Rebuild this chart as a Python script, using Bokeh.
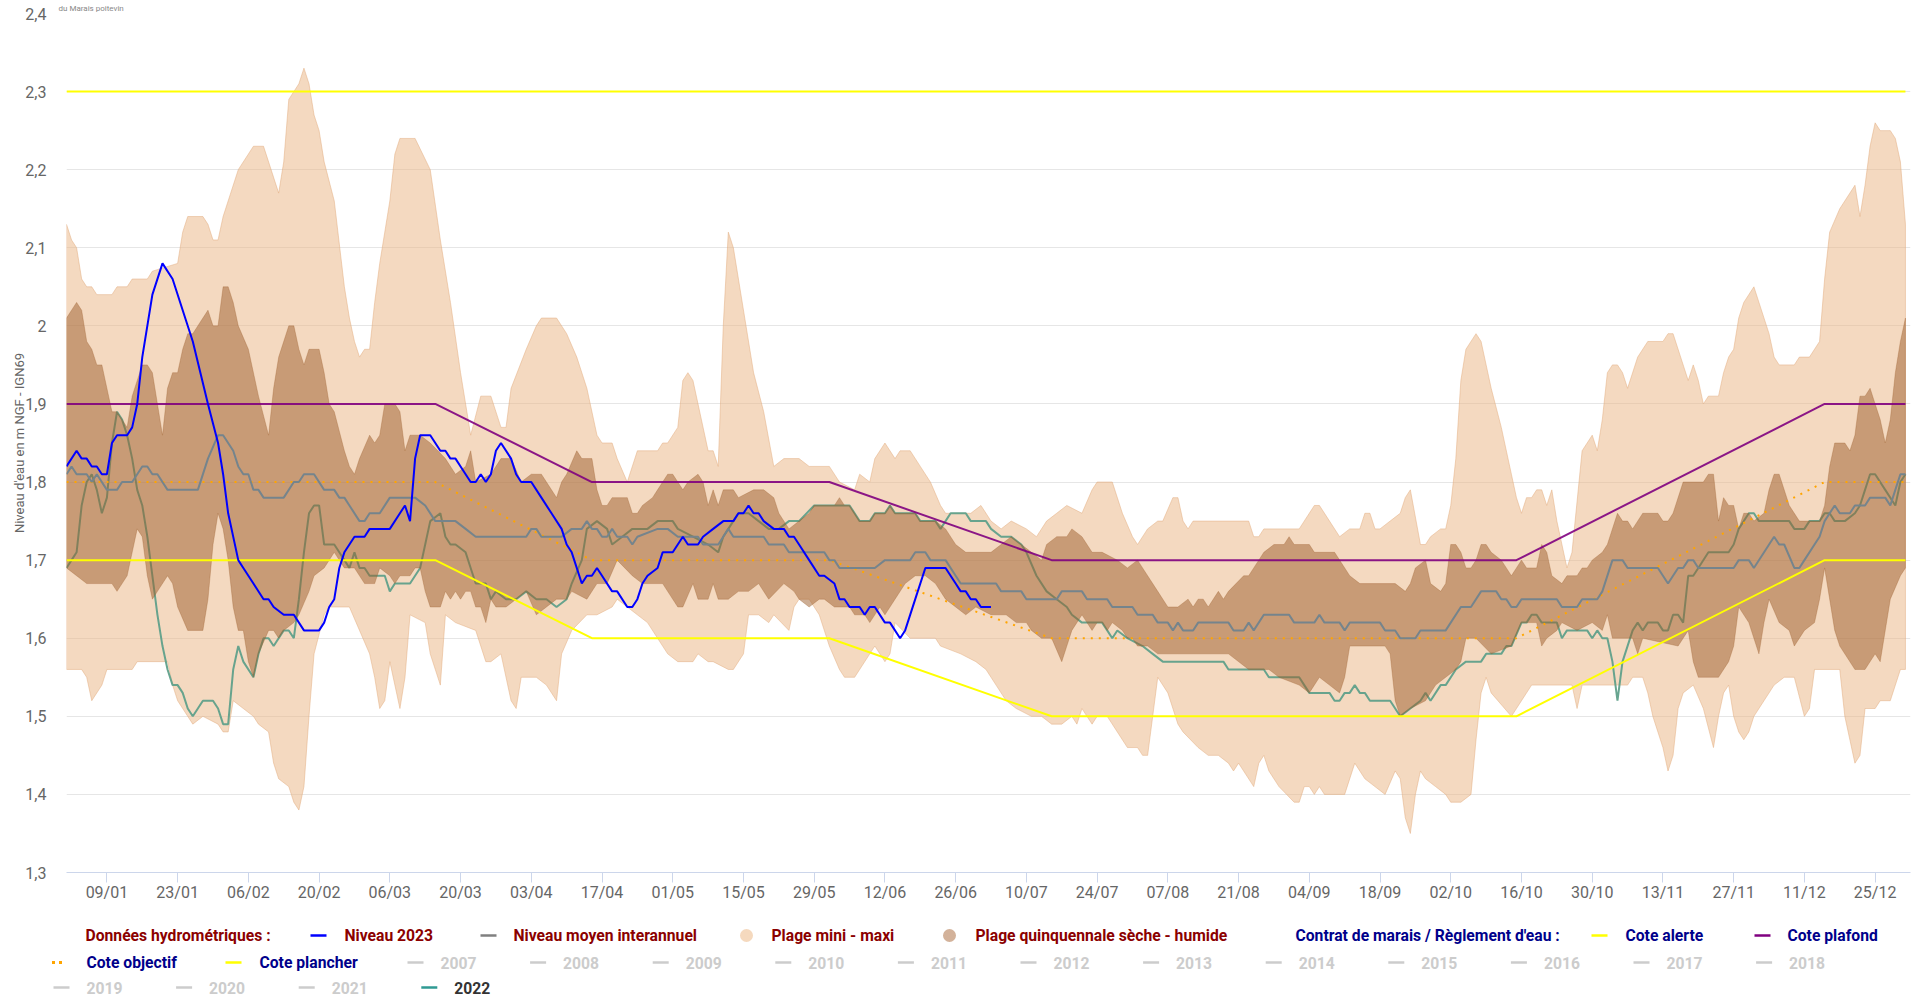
from datetime import datetime
from bokeh.plotting import figure
from bokeh.models import Range1d, FixedTicker, DatetimeTickFormatter, CustomJSTickFormatter
from bokeh.embed import file_html
from bokeh.resources import INLINE
from bokeh.core.properties import value

# ---------------- DATA (day of year 2023, 0 = 1 Jan) ----------------
minmax_hi_days = [0,1,2,3,4,5,6,9,10,12,13,16,17,22,23,24,27,28,29,30,31,34,37,39,42,43,44,46,47,48,49,50,51,53,55,56,57,58,59,60,61,62,64,65,66,69,72,
                  74,76,78,80,82,84,86,87,88,91,93,94,97,99,101,103,105,106,108,109,111,113,117,118,119,121,122,123,124,127,128,129,130,131,132,133,136,138,140,142,145,147,
                  151,153,156,157,159,160,162,164,165,167,169,171,173,174,179,181,183,185,187,190,192,194,196,198,201,203,204,207,209,211,212,214,216,217,219,220,
                  221,222,223,234,235,236,237,244,247,248,250,252,254,256,257,258,259,260,262,264,265,266,268,269,270,272,273,274,275,276,277,279,280,281,282,284,286,287,288,289,290,291,292,293,
                  294,295,296,297,298,300,302,303,304,305,306,307,308,309,311,313,316,317,318,321,322,323,324,325,327,328,329,330,331,332,334,335,337,338,339,342,343,345,347,348,349,351,354,355,356,357,358,359,361,362,363,364]
minmax_hi = [2.13,2.11,2.10,2.06,2.05,2.05,2.04,2.04,2.05,2.05,2.06,2.06,2.07,2.08,2.12,2.14,2.14,2.13,2.11,2.11,2.14,2.20,2.23,2.23,2.17,2.21,2.29,2.31,2.33,2.31,2.27,2.25,2.21,2.16,2.05,2.01,1.98,1.96,1.97,1.97,2.03,2.08,2.16,2.22,2.24,2.24,2.20,
             2.11,2.03,1.94,1.86,1.91,1.91,1.87,1.87,1.92,1.97,2.00,2.01,2.01,1.99,1.96,1.92,1.86,1.85,1.85,1.83,1.80,1.84,1.84,1.85,1.85,1.87,1.93,1.94,1.93,1.84,1.84,1.82,2.00,2.12,2.10,2.06,1.94,1.89,1.82,1.83,1.83,1.82,
             1.82,1.80,1.79,1.81,1.80,1.83,1.85,1.83,1.84,1.84,1.82,1.80,1.77,1.76,1.76,1.77,1.75,1.74,1.75,1.74,1.73,1.75,1.76,1.77,1.76,1.79,1.80,1.80,1.76,1.73,1.72,1.74,1.75,1.75,1.78,1.78,
             1.75,1.74,1.75,1.75,1.73,1.73,1.74,1.74,1.77,1.77,1.75,1.73,1.74,1.74,1.76,1.76,1.74,1.74,1.75,1.76,1.78,1.79,1.72,1.72,1.73,1.74,1.74,1.77,1.83,1.93,1.97,1.99,1.98,1.95,1.92,1.87,1.81,1.78,1.76,1.78,1.78,1.79,1.79,1.77,
             1.79,1.75,1.72,1.69,1.71,1.84,1.86,1.84,1.88,1.94,1.95,1.95,1.94,1.92,1.96,1.98,1.98,1.99,1.99,1.93,1.95,1.93,1.90,1.91,1.91,1.94,1.96,1.97,2.01,2.03,2.05,2.03,1.99,1.96,1.95,1.95,1.96,1.96,1.98,2.06,2.12,2.15,2.18,2.14,2.18,2.23,2.26,2.25,2.25,2.24,2.21,2.13]

minmax_lo_days = [0,3,4,5,7,8,13,14,20,21,22,24,25,27,30,31,32,33,35,37,38,40,41,42,44,45,46,47,48,49,51,52,56,58,60,61,62,63,64,66,67,68,71,72,
                  73,74,75,77,81,83,84,86,87,88,89,90,93,95,97,98,100,103,105,108,109,113,115,117,119,121,124,125,127,128,131,132,134,135,137,139,140,143,144,145,147,
                  149,151,153,154,156,157,159,160,162,163,164,167,172,173,177,180,182,184,186,188,191,193,195,197,199,200,201,202,203,204,206,208,210,212,213,214,215,216,218,220,
                  221,224,226,228,230,231,232,235,236,237,238,240,243,244,245,246,247,248,249,253,255,257,259,261,263,264,265,266,267,268,269,271,273,274,276,278,279,280,281,282,286,287,290,293,
                  298,299,300,309,310,312,313,314,315,316,317,318,319,320,322,324,326,327,328,329,330,331,332,333,334,336,338,340,342,344,345,346,351,352,354,355,356,358,359,361,362,363,364]
minmax_lo = [1.56,1.56,1.55,1.52,1.54,1.56,1.56,1.57,1.57,1.54,1.52,1.50,1.49,1.50,1.49,1.48,1.48,1.52,1.51,1.50,1.49,1.48,1.44,1.42,1.41,1.39,1.38,1.41,1.50,1.58,1.63,1.64,1.64,1.61,1.58,1.55,1.51,1.52,1.57,1.51,1.55,1.63,1.62,1.58,
             1.56,1.54,1.63,1.62,1.61,1.57,1.57,1.58,1.55,1.52,1.51,1.55,1.55,1.54,1.52,1.58,1.61,1.63,1.63,1.64,1.65,1.63,1.62,1.60,1.58,1.57,1.57,1.58,1.57,1.57,1.56,1.56,1.58,1.63,1.63,1.62,1.63,1.61,1.64,1.65,1.65,
             1.63,1.59,1.56,1.55,1.55,1.56,1.58,1.59,1.57,1.58,1.62,1.60,1.60,1.59,1.58,1.57,1.56,1.54,1.52,1.51,1.50,1.50,1.49,1.49,1.50,1.49,1.51,1.50,1.49,1.50,1.50,1.48,1.46,1.46,1.45,1.45,1.50,1.55,1.53,1.49,
             1.48,1.46,1.45,1.45,1.44,1.43,1.44,1.41,1.44,1.45,1.43,1.41,1.39,1.39,1.41,1.41,1.40,1.41,1.40,1.40,1.44,1.42,1.41,1.40,1.43,1.42,1.37,1.35,1.40,1.43,1.42,1.41,1.40,1.39,1.39,1.40,1.47,1.53,1.55,1.53,1.50,1.51,1.54,1.54,
             1.54,1.51,1.54,1.54,1.55,1.55,1.53,1.50,1.48,1.46,1.43,1.45,1.51,1.53,1.54,1.51,1.46,1.50,1.53,1.54,1.50,1.48,1.47,1.48,1.50,1.52,1.54,1.55,1.55,1.50,1.51,1.56,1.56,1.50,1.44,1.45,1.51,1.51,1.52,1.52,1.54,1.56,1.56]

quint_hi_days = [0,2,3,4,5,6,7,9,10,12,13,15,16,17,19,20,21,22,23,24,25,27,28,29,30,31,32,33,34,36,38,40,41,42,44,45,46,47,48,50,51,52,53,55,56,57,58,60,61,62,63,65,66,67,68,70,72,
                 75,77,79,80,81,84,86,88,90,92,94,96,97,98,99,101,102,104,105,106,107,108,111,112,113,114,116,117,119,120,121,122,123,125,126,127,128,129,130,132,133,136,138,140,141,143,145,147,
                 148,152,153,154,155,157,159,160,162,163,164,168,169,172,174,176,178,183,185,187,189,191,193,194,196,198,199,201,202,203,205,208,210,212,214,216,218,220,
                 222,223,224,225,226,228,229,230,233,234,236,237,239,241,242,243,246,247,251,254,256,263,265,266,267,269,270,272,273,274,275,276,277,278,279,280,281,282,284,286,287,288,289,291,292,293,
                 294,296,297,299,300,301,302,304,305,307,308,309,310,312,315,316,317,318,320,324,325,326,327,328,329,330,331,332,333,334,336,337,338,339,340,341,342,343,347,348,349,350,352,353,354,355,356,357,358,359,360,361,362,363,364]
quint_hi = [2.01,2.03,2.02,1.98,1.97,1.95,1.95,1.89,1.89,1.87,1.91,1.95,1.95,1.94,1.86,1.92,1.94,1.94,1.97,1.99,1.99,2.01,2.02,2.00,2.00,2.05,2.05,2.03,2.00,1.97,1.91,1.86,1.92,1.96,2.00,2.00,1.97,1.95,1.97,1.97,1.94,1.90,1.89,1.84,1.82,1.81,1.83,1.86,1.85,1.86,1.90,1.90,1.89,1.84,1.86,1.86,1.85,
            1.83,1.81,1.82,1.84,1.80,1.81,1.83,1.83,1.80,1.81,1.81,1.79,1.78,1.80,1.81,1.84,1.83,1.83,1.79,1.77,1.77,1.78,1.78,1.76,1.76,1.77,1.78,1.79,1.81,1.81,1.80,1.79,1.80,1.81,1.80,1.77,1.79,1.77,1.79,1.79,1.78,1.79,1.79,1.78,1.76,1.74,1.75,1.76,
            1.77,1.77,1.78,1.77,1.77,1.75,1.75,1.76,1.76,1.77,1.76,1.76,1.75,1.75,1.74,1.72,1.71,1.71,1.72,1.73,1.72,1.71,1.70,1.72,1.73,1.73,1.74,1.73,1.72,1.71,1.71,1.70,1.69,1.70,1.68,1.66,1.64,1.64,
            1.65,1.64,1.65,1.65,1.64,1.66,1.65,1.66,1.68,1.68,1.70,1.71,1.72,1.72,1.73,1.72,1.72,1.71,1.71,1.68,1.67,1.67,1.66,1.67,1.69,1.70,1.67,1.66,1.67,1.72,1.72,1.71,1.69,1.69,1.70,1.72,1.72,1.71,1.70,1.68,1.69,1.70,1.69,1.69,1.72,1.71,
            1.68,1.67,1.68,1.68,1.69,1.69,1.70,1.71,1.72,1.76,1.75,1.75,1.74,1.76,1.76,1.75,1.75,1.76,1.80,1.80,1.81,1.81,1.75,1.78,1.77,1.77,1.74,1.76,1.76,1.75,1.76,1.79,1.81,1.81,1.79,1.77,1.76,1.75,1.75,1.77,1.82,1.85,1.85,1.84,1.86,1.91,1.91,1.92,1.90,1.88,1.85,1.88,1.94,1.98,2.01]

quint_lo_days = [0,4,9,10,12,13,14,15,16,17,18,20,21,22,24,27,28,29,30,31,32,33,34,35,36,37,38,40,41,42,43,45,46,48,49,51,53,55,57,58,59,61,62,64,65,66,68,69,70,71,72,
                 74,75,76,77,78,79,80,81,82,83,84,85,87,89,91,93,95,97,99,100,103,105,107,109,112,114,118,121,122,124,125,127,128,129,131,133,135,137,139,142,144,145,147,
                 149,150,152,155,156,158,159,160,161,162,164,166,168,170,172,174,176,178,180,183,186,188,190,191,193,195,197,198,199,201,202,203,204,205,206,207,209,210,211,212,214,216,220,
                 230,234,238,240,244,246,248,250,252,253,254,261,262,263,264,266,269,271,273,275,276,277,279,282,286,288,291,292,293,
                 295,296,299,302,304,305,306,310,311,312,319,321,322,323,327,329,330,331,333,334,335,336,337,339,341,342,344,346,347,348,350,351,354,356,358,359,360,361,363,364]
quint_lo = [1.69,1.67,1.67,1.66,1.68,1.71,1.74,1.73,1.68,1.65,1.66,1.68,1.67,1.64,1.61,1.61,1.65,1.72,1.76,1.74,1.70,1.64,1.61,1.61,1.57,1.55,1.58,1.61,1.61,1.60,1.61,1.62,1.63,1.66,1.68,1.69,1.71,1.69,1.69,1.68,1.67,1.67,1.69,1.68,1.67,1.68,1.68,1.69,1.69,1.66,1.64,
            1.64,1.66,1.65,1.66,1.65,1.66,1.66,1.64,1.64,1.62,1.65,1.64,1.64,1.65,1.66,1.63,1.64,1.65,1.65,1.66,1.65,1.67,1.67,1.70,1.68,1.67,1.67,1.64,1.64,1.67,1.65,1.65,1.67,1.65,1.65,1.66,1.66,1.67,1.65,1.67,1.66,1.65,1.64,
            1.65,1.65,1.64,1.64,1.63,1.63,1.62,1.63,1.64,1.63,1.65,1.67,1.68,1.68,1.67,1.65,1.64,1.63,1.64,1.63,1.63,1.62,1.62,1.61,1.60,1.60,1.57,1.59,1.61,1.63,1.62,1.61,1.62,1.62,1.61,1.62,1.61,1.60,1.60,1.59,1.59,1.58,1.58,
            1.58,1.56,1.56,1.55,1.54,1.53,1.55,1.54,1.53,1.55,1.59,1.59,1.58,1.52,1.50,1.51,1.52,1.54,1.55,1.56,1.57,1.60,1.60,1.58,1.59,1.62,1.62,1.59,1.60,
            1.61,1.62,1.61,1.62,1.61,1.63,1.60,1.60,1.58,1.60,1.59,1.61,1.57,1.55,1.55,1.57,1.59,1.64,1.62,1.60,1.58,1.62,1.65,1.62,1.61,1.59,1.61,1.62,1.65,1.69,1.61,1.59,1.56,1.56,1.58,1.57,1.61,1.65,1.68,1.69]

moyen_days = [0,1,2,4,5,6,8,10,11,13,15,16,17,18,20,26,28,30,31,33,34,35,36,37,38,39,43,45,46,47,49,51,53,54,55,56,58,59,60,62,64,69,71,73,
              77,79,81,91,92,93,94,98,100,102,103,104,105,106,107,108,109,111,112,113,117,119,121,125,126,129,130,131,132,138,139,142,143,147,
              150,151,152,153,160,162,167,168,170,171,174,176,177,184,185,189,190,196,197,201,202,206,207,211,212,215,216,218,219,220,
              221,223,224,230,231,233,234,235,237,242,243,247,248,249,252,253,254,260,261,263,264,267,268,273,276,278,280,283,284,285,286,287,288,294,
              295,296,299,300,303,304,306,308,309,315,316,317,318,319,320,321,322,323,330,331,333,334,338,339,340,342,343,344,346,347,348,350,351,353,354,356,357,360,361,362,363,364]
moyen = [1.81,1.82,1.81,1.81,1.80,1.81,1.79,1.79,1.80,1.80,1.82,1.82,1.81,1.81,1.79,1.79,1.83,1.86,1.86,1.84,1.82,1.81,1.81,1.79,1.79,1.78,1.78,1.80,1.80,1.81,1.81,1.79,1.79,1.78,1.78,1.77,1.75,1.75,1.76,1.76,1.78,1.78,1.77,1.75,
         1.75,1.74,1.73,1.73,1.74,1.74,1.73,1.73,1.74,1.74,1.75,1.74,1.74,1.73,1.73,1.74,1.73,1.73,1.72,1.73,1.74,1.74,1.73,1.73,1.72,1.72,1.73,1.74,1.73,1.73,1.72,1.72,1.71,1.71,
         1.71,1.70,1.70,1.69,1.69,1.70,1.70,1.71,1.71,1.70,1.70,1.68,1.67,1.67,1.66,1.66,1.65,1.65,1.66,1.66,1.65,1.65,1.64,1.64,1.63,1.63,1.62,1.62,1.61,1.62,
         1.61,1.61,1.62,1.62,1.61,1.61,1.62,1.61,1.63,1.63,1.62,1.62,1.63,1.62,1.62,1.61,1.62,1.62,1.61,1.61,1.60,1.60,1.61,1.61,1.64,1.64,1.66,1.66,1.65,1.65,1.64,1.64,1.65,1.65,
         1.65,1.64,1.64,1.65,1.65,1.66,1.70,1.70,1.69,1.69,1.68,1.67,1.68,1.69,1.69,1.70,1.70,1.69,1.69,1.70,1.70,1.69,1.73,1.72,1.72,1.69,1.69,1.70,1.72,1.73,1.75,1.77,1.76,1.76,1.77,1.77,1.78,1.78,1.77,1.79,1.81,1.81]

y2022_days = [0,1,2,3,4,5,6,7,8,9,10,11,12,13,14,15,16,17,18,19,20,21,22,23,24,25,26,27,29,30,31,32,33,34,35,37,38,39,40,41,43,44,45,46,47,48,49,50,51,53,54,55,56,57,58,59,60,63,64,65,68,70,71,72,
              74,75,76,77,79,80,81,83,84,85,87,89,91,93,95,97,99,100,102,103,105,107,108,110,112,115,117,120,121,124,127,129,130,131,133,135,137,139,141,143,145,148,
              155,157,159,160,162,163,164,168,169,172,173,174,175,178,179,182,183,185,187,189,190,192,194,196,198,199,201,205,206,207,208,210,213,215,217,229,230,237,238,244,245,246,250,251,252,253,254,255,256,257,258,262,264,266,268,269,270,272,273,275,277,280,281,284,285,286,288,289,290,291,292,295,296,297,301,302,303,304,305,306,307,308,310,311,312,313,315,316,317,318,319,320,321,322,323,325,329,330,331,333,334,335,341,342,344,345,347,348,349,350,352,354,355,356,357,358,360,362,363,364]
y2022 = [1.69,1.70,1.71,1.77,1.80,1.81,1.79,1.76,1.78,1.85,1.89,1.88,1.86,1.83,1.79,1.77,1.73,1.68,1.63,1.59,1.56,1.54,1.54,1.53,1.51,1.50,1.51,1.52,1.52,1.51,1.49,1.49,1.56,1.59,1.57,1.55,1.58,1.60,1.60,1.59,1.61,1.61,1.60,1.65,1.71,1.76,1.77,1.77,1.72,1.72,1.71,1.70,1.69,1.71,1.69,1.69,1.68,1.68,1.66,1.67,1.67,1.69,1.72,1.75,
         1.76,1.73,1.72,1.72,1.71,1.69,1.67,1.67,1.65,1.66,1.65,1.65,1.66,1.65,1.65,1.64,1.65,1.67,1.70,1.74,1.75,1.74,1.72,1.73,1.74,1.74,1.75,1.75,1.74,1.73,1.72,1.71,1.73,1.74,1.76,1.76,1.75,1.74,1.74,1.75,1.75,1.77,
         1.77,1.75,1.75,1.76,1.76,1.77,1.76,1.76,1.75,1.75,1.74,1.75,1.76,1.76,1.75,1.75,1.74,1.73,1.73,1.72,1.71,1.68,1.66,1.65,1.64,1.63,1.62,1.62,1.61,1.60,1.61,1.60,1.59,1.58,1.57,1.57,1.56,1.56,1.55,1.55,1.54,1.53,1.53,1.52,1.52,1.53,1.53,1.54,1.53,1.53,1.52,1.52,1.50,1.51,1.52,1.53,1.52,1.54,1.54,1.56,1.57,1.57,1.58,1.58,1.59,1.59,1.62,1.62,1.63,1.63,1.62,1.62,1.60,1.61,1.61,1.60,1.61,1.60,1.60,1.57,1.52,1.57,1.61,1.62,1.61,1.62,1.62,1.61,1.61,1.63,1.63,1.62,1.68,1.68,1.69,1.71,1.71,1.72,1.74,1.76,1.76,1.75,1.75,1.74,1.74,1.75,1.75,1.76,1.76,1.75,1.75,1.76,1.77,1.79,1.81,1.81,1.79,1.77,1.80,1.81]

y2023_days = [0,2,3,4,5,6,7,8,9,10,12,13,14,15,17,19,21,25,28,30,31,32,34,35,37,39,40,41,43,45,47,50,51,52,53,54,55,57,59,60,64,66,67,68,69,70,72,73,74,75,76,77,78,80,81,82,83,84,85,86,88,89,90,92,94,96,98,99,100,102,103,104,105,106,108,109,111,112,113,114,115,117,118,120,122,123,125,126,128,130,132,133,134,135,136,137,138,140,142,143,144,145,147,149,150,152,153,154,155,157,158,159,160,162,163,165,166,168,170,174,176,177,178,179,180,181,183]
y2023 = [1.82,1.84,1.83,1.83,1.82,1.82,1.81,1.81,1.85,1.86,1.86,1.87,1.90,1.96,2.04,2.08,2.06,1.98,1.90,1.85,1.81,1.76,1.70,1.69,1.67,1.65,1.65,1.64,1.63,1.63,1.61,1.61,1.62,1.64,1.65,1.69,1.71,1.73,1.73,1.74,1.74,1.76,1.77,1.75,1.83,1.86,1.86,1.85,1.84,1.84,1.83,1.83,1.82,1.80,1.80,1.81,1.80,1.81,1.84,1.85,1.83,1.81,1.80,1.80,1.78,1.76,1.74,1.72,1.71,1.67,1.68,1.68,1.69,1.68,1.66,1.66,1.64,1.64,1.65,1.67,1.68,1.69,1.71,1.71,1.73,1.72,1.72,1.73,1.74,1.75,1.75,1.76,1.76,1.77,1.76,1.76,1.75,1.74,1.74,1.73,1.73,1.72,1.70,1.68,1.68,1.67,1.65,1.65,1.64,1.64,1.63,1.64,1.64,1.62,1.62,1.60,1.61,1.65,1.69,1.69,1.67,1.66,1.66,1.65,1.65,1.64,1.64]

# Contrat de marais / Reglement d'eau
regl_days = [0, 73, 104, 151, 195, 287, 348, 364]
cote_plafond = [1.9, 1.9, 1.8, 1.8, 1.7, 1.7, 1.9, 1.9]
cote_objectif = [1.8, 1.8, 1.7, 1.7, 1.6, 1.6, 1.8, 1.8]
cote_plancher = [1.7, 1.7, 1.6, 1.6, 1.5, 1.5, 1.7, 1.7]
alerte_days = [0, 364]
cote_alerte = [2.3, 2.3]

x_tick_days = [8, 22, 36, 50, 64, 78, 92, 106, 120, 134, 148, 162, 176, 190, 204, 218, 232, 246, 260, 274, 288, 302, 316, 330, 344, 358]
y_ticks = [1.3, 1.4, 1.5, 1.6, 1.7, 1.8, 1.9, 2.0, 2.1, 2.2, 2.3, 2.4]

years_hidden = ["2007", "2008", "2009", "2010", "2011", "2012", "2013", "2014", "2015", "2016", "2017", "2018"]
years_row3 = ["2019", "2020", "2021", "2022"]

# ---------------- helpers ----------------
DAY_MS = 86400000.0
BASE_MS = (datetime(2023, 1, 1) - datetime(1970, 1, 1)).total_seconds() * 1000.0


def ms(days):
    return [BASE_MS + d * DAY_MS for d in days]


FONT = "Roboto"
W = 1915
H_MAIN = 920
FL, FR = 66, 1910   # frame left / right in page pixels
FB = 872            # frame bottom in page pixels

p = figure(width=W, height=H_MAIN, x_axis_type="datetime", output_backend="svg", toolbar_location=None,
           x_range=Range1d(BASE_MS, BASE_MS + 365.0 * DAY_MS), y_range=Range1d(1.3, 2.4),
           min_border_left=FL, min_border_right=W - FR, min_border_top=13, min_border_bottom=H_MAIN - FB)
p.outline_line_color = None
p.xgrid.grid_line_color = None
p.ygrid.ticker = FixedTicker(ticks=y_ticks)
p.ygrid.grid_line_color = "#e6e6e6"

# tiny credit line at the top-left, as in the original
p.title.text = "du Marais poitevin"
p.title.text_font = FONT
p.title.text_font_size = "8px"
p.title.text_font_style = "normal"
p.title.text_color = "#888888"
p.title.align = "left"
p.title.offset = -8
p.title.standoff = 1

p.xaxis.ticker = FixedTicker(ticks=ms(x_tick_days))
p.xaxis.formatter = DatetimeTickFormatter(days="%d/%m", months="%d/%m", hours="%d/%m")
p.xaxis.axis_line_color = "#ccd6eb"
p.xaxis.major_tick_line_color = "#ccd6eb"
p.xaxis.major_tick_out = 10
p.xaxis.major_tick_in = 0
p.xaxis.minor_tick_line_color = None
p.xaxis.major_label_standoff = 0
p.xaxis.major_label_text_color = "#666666"
p.xaxis.major_label_text_font = FONT
p.xaxis.major_label_text_font_size = "16px"

p.yaxis.ticker = FixedTicker(ticks=y_ticks)
p.yaxis.formatter = CustomJSTickFormatter(code="var s = (Math.round(tick*10)/10).toString(); return s.replace('.', ',');")
p.yaxis.axis_line_color = None
p.yaxis.major_tick_line_color = None
p.yaxis.minor_tick_line_color = None
p.yaxis.major_label_standoff = 14
p.yaxis.major_label_text_color = "#666666"
p.yaxis.major_label_text_font = FONT
p.yaxis.major_label_text_font_size = "16px"
p.yaxis.axis_label = "Niveau d'eau en m NGF - IGN69"
p.yaxis.axis_label_text_font = FONT
p.yaxis.axis_label_text_font_size = "13px"
p.yaxis.axis_label_text_font_style = "normal"
p.yaxis.axis_label_text_color = "#666666"
p.yaxis.axis_label_standoff = -5

# plage mini - maxi
p.patch(ms(minmax_hi_days) + ms(minmax_lo_days)[::-1], minmax_hi + minmax_lo[::-1],
        fill_color="#E9B381", fill_alpha=0.5, line_color="#E3AE80", line_alpha=0.5, line_width=1)
# 2022 (drawn beneath the quinquennal band, as in the original)
p.line(ms(y2022_days), y2022, line_color="#5FA08A", line_width=2, line_alpha=0.95)
# plage quinquennale
p.patch(ms(quint_hi_days) + ms(quint_lo_days)[::-1], quint_hi + quint_lo[::-1],
        fill_color="#9C5D2C", fill_alpha=0.5, line_color="#9C5D2C", line_alpha=0.3, line_width=1)

# lines
p.line(ms(alerte_days), cote_alerte, line_color="#FFFF00", line_width=2)
p.line(ms(regl_days), cote_plancher, line_color="#FFFF00", line_width=2)
p.line(ms(regl_days), cote_objectif, line_color="#FFA500", line_width=2, line_dash="2 6")
p.line(ms(regl_days), cote_plafond, line_color="#800080", line_width=2, line_alpha=0.9)
p.line(ms(moyen_days), moyen, line_color="#75848C", line_width=2)
p.line(ms(y2023_days), y2023, line_color="#0000FF", line_width=2)

# ---------------- legend (separate root figure: data x/y == pixels) ----------------
LH = 76
lg = figure(width=W, height=LH, output_backend="svg", toolbar_location=None,
            x_range=Range1d(0, W), y_range=Range1d(LH, 0),
            x_axis_location=None, y_axis_location=None,
            min_border_left=0, min_border_right=0, min_border_top=0, min_border_bottom=0)
lg.outline_line_color = None
lg.grid.grid_line_color = None

R1, R2, R3 = 15, 42, 67
RED = "#8B0000"
BLUE = "#00008B"
LFS = "15.7px"


def txt(xs, ys, texts, colors):
    lg.text(x=xs, y=ys, text=texts, text_color=colors, text_font=value(FONT), text_font_size=LFS,
            text_font_style="bold", text_baseline="middle", text_align="left")


def swatch(x0, y, color):
    lg.segment(x0=[x0], y0=[y], x1=[x0 + 16], y1=[y], line_color=color, line_width=2.5)


# row 1
txt([85], [R1], ["Données hydrométriques :"], [RED])
swatch(310, R1, "#0000FF")
txt([344], [R1], ["Niveau 2023"], [RED])
swatch(480, R1, "#808080")
txt([513], [R1], ["Niveau moyen interannuel"], [RED])
lg.scatter([746], [R1], marker="circle", size=13, fill_color="#F5D9BE", line_color=None)
txt([771], [R1], ["Plage mini - maxi"], [RED])
lg.scatter([949], [R1], marker="circle", size=13, fill_color="#D3B29A", line_color=None)
txt([975], [R1], ["Plage quinquennale sèche - humide"], [RED])
txt([1295], [R1], ["Contrat de marais / Règlement d'eau :"], [BLUE])
swatch(1591, R1, "#FFFF00")
txt([1625], [R1], ["Cote alerte"], [BLUE])
swatch(1754, R1, "#800080")
txt([1787], [R1], ["Cote plafond"], [BLUE])

# row 2
lg.scatter([53, 60], [R2, R2], marker="square", size=3, fill_color="#FFA500", line_color=None)
txt([86], [R2], ["Cote objectif"], [BLUE])
swatch(225, R2, "#FFFF00")
txt([259], [R2], ["Cote plancher"], [BLUE])
for i, yr in enumerate(years_hidden):
    tx = 440 + i * 122.6
    swatch(tx - 33, R2, "#CCCCCC")
    txt([tx], [R2], [yr], ["#CCCCCC"])

# row 3
for i, yr in enumerate(years_row3):
    tx = 86 + i * 122.6
    last = (yr == "2022")
    swatch(tx - 33, R3, "#2F9A93" if last else "#CCCCCC")
    txt([tx], [R3], [yr], ["#333333" if last else "#CCCCCC"])

open("out.html", "w").write(file_html([p, lg], INLINE))
